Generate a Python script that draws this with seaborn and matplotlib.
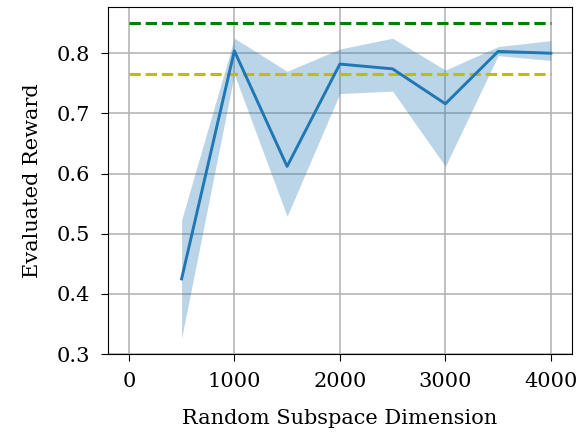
import numpy as np
import pandas as pd
import matplotlib
matplotlib.use("Agg")
import matplotlib.pyplot as plt
import seaborn as sns

# datos
dims = [500, 1000, 1500, 2000, 2500, 3000, 3500, 4000]
reward_mean = [0.425, 0.804, 0.612, 0.782, 0.774, 0.716, 0.803, 0.800]
reward_low = [0.326, 0.765, 0.529, 0.733, 0.737, 0.612, 0.796, 0.788]
reward_high = [0.523, 0.825, 0.770, 0.807, 0.825, 0.772, 0.811, 0.821]
ref_x = [0, 4000]
ref_green = 0.85
ref_yellow = 0.765

plt.rcParams['font.family'] = ['DejaVu Serif']
plt.rcParams['font.size'] = 15
plt.rcParams['xtick.major.size'] = 5
plt.rcParams['ytick.major.size'] = 5
plt.rcParams['xtick.major.pad'] = 7.5
plt.rcParams['ytick.major.pad'] = 7.5

df = pd.DataFrame({'dim': dims, 'reward': reward_mean})

fig, ax = plt.subplots(figsize=(5.81, 4.33), dpi=100)
ax.plot(ref_x, [ref_green, ref_green], '--', color='g', lw=2.2)
ax.plot(ref_x, [ref_yellow, ref_yellow], '--', color='y', lw=2.2)
ax.fill_between(dims, reward_low, reward_high, color='#1f77b4', alpha=0.3, lw=0)
sns.lineplot(data=df, x='dim', y='reward', color='#1f77b4', lw=2.1, ax=ax)

ax.grid(True, color='#b0b0b0', lw=1.1)
ax.set_axisbelow(True)
ax.set_xticks([0, 1000, 2000, 3000, 4000])
ax.set_xlabel('Random Subspace Dimension', labelpad=13)
ax.set_ylabel('Evaluated Reward', labelpad=11)

plt.subplots_adjust(left=0.1854, right=0.9845, top=0.983, bottom=0.1818)
plt.savefig('out.png', dpi=100)
